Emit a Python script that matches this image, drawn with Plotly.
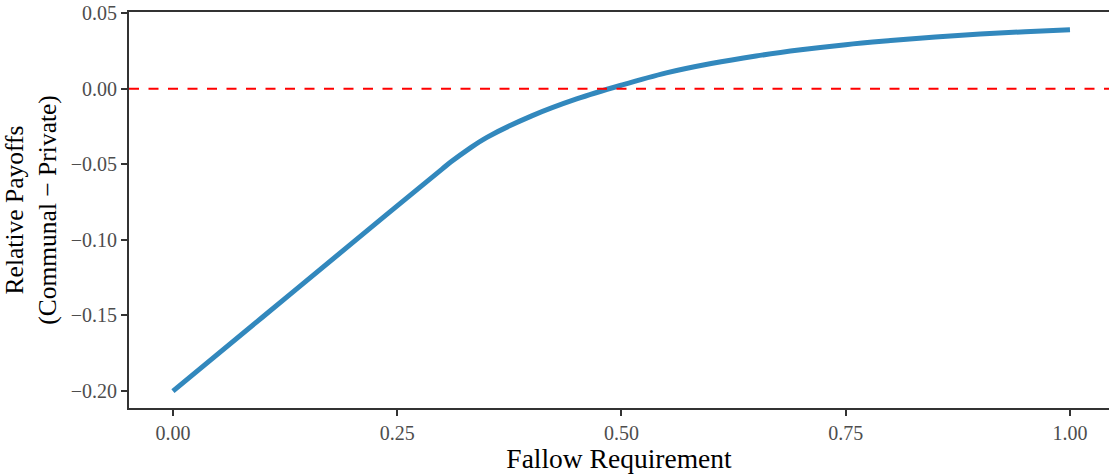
import plotly.graph_objects as go

fallow = [0.0, 0.1, 0.2, 0.25, 0.30, 0.31, 0.33, 0.35, 0.40, 0.45, 0.50, 0.55, 0.60, 0.65, 0.70, 0.75, 0.80, 0.85, 0.90, 0.95, 1.0]
payoff = [-0.200, -0.151, -0.102, -0.0775, -0.0532, -0.0484, -0.0398, -0.0322, -0.0180, -0.0068, 0.0023, 0.0104, 0.0166, 0.0216, 0.0257, 0.0291, 0.0318, 0.0342, 0.0361, 0.0377, 0.0390]

x_ticks = [0.0, 0.25, 0.5, 0.75, 1.0]
x_labels = ["0.00", "0.25", "0.50", "0.75", "1.00"]
y_ticks = [-0.20, -0.15, -0.10, -0.05, 0.0, 0.05]
y_labels = ["\u22120.20", "\u22120.15", "\u22120.10", "\u22120.05", "0.00", "0.05"]

FONT = "Liberation Serif"

fig = go.Figure()
fig.add_trace(go.Scatter(
    x=fallow, y=payoff, mode="lines",
    line=dict(color="#3288BD", width=5, shape="spline", smoothing=1.0),
    showlegend=False, hoverinfo="skip",
))
fig.add_shape(type="line", xref="paper", yref="y", x0=0, x1=1, y0=0, y1=0,
              line=dict(color="#FF0000", width=2, dash="10px,9.5px"))

fig.update_layout(
    width=1109, height=474,
    margin=dict(l=129, r=0, t=12, b=66, autoexpand=False),
    plot_bgcolor="white", paper_bgcolor="white",
    font=dict(family=FONT, color="#000000"),
    xaxis=dict(
        range=[-0.049, 1.0435], tickvals=x_ticks, ticktext=x_labels,
        showgrid=False, zeroline=False,
        showline=True, linecolor="#333333", linewidth=2, mirror=True,
        ticks="outside", ticklen=6, tickwidth=1.5, tickcolor="#333333",
        tickfont=dict(family=FONT, size=20, color="#4D4D4D"),
        title=dict(text="Fallow Requirement", font=dict(family=FONT, size=27.5, color="#000000"), standoff=3),
    ),
    yaxis=dict(
        range=[-0.2112, 0.0507], tickvals=y_ticks, ticktext=y_labels,
        showgrid=False, zeroline=False,
        showline=True, linecolor="#333333", linewidth=2,
        ticks="outside", ticklen=6, tickwidth=1.5, tickcolor="#333333",
        tickfont=dict(family=FONT, size=20, color="#4D4D4D"),
        ticklabeloverflow="allow",
        title=dict(text="Relative Payoffs<br>(Communal \u2212 Private)", font=dict(family=FONT, size=25.5, color="#000000"), standoff=9),
    ),
)

fig.write_html("out.html", config={"displayModeBar": False},
               post_script="document.body.style.margin='0';")
